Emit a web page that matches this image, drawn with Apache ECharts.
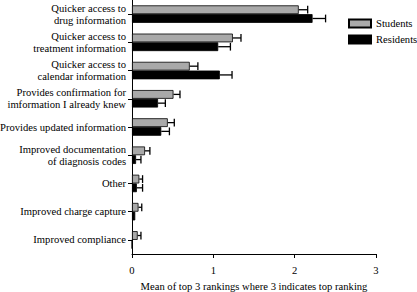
<!DOCTYPE html>
<html>
<head>
<meta charset="utf-8">
<script src="https://cdn.jsdelivr.net/npm/echarts@6/dist/echarts.min.js"></script>
<style>
  html, body { margin: 0; padding: 0; background: #fff; }
  #chart { width: 417px; height: 292px; }
</style>
</head>
<body>
<div id="chart"></div>
<script>
var categories = [
  'Quicker access to\ndrug information',
  'Quicker access to\ntreatment information',
  'Quicker access to\ncalendar information',
  'Provides confirmation for\nimformation I already knew',
  'Provides updated information',
  'Improved documentation\nof diagnosis codes',
  'Other',
  'Improved charge capture',
  'Improved compliance'
];
var students = [2.05, 1.24, 0.71, 0.51, 0.44, 0.16, 0.09, 0.08, 0.07];
var studentsErr = [0.11, 0.10, 0.10, 0.08, 0.08, 0.06, 0.04, 0.04, 0.04];
var residents = [2.22, 1.06, 1.08, 0.32, 0.36, 0.05, 0.06, 0.04, 0];
var residentsErr = [0.16, 0.15, 0.15, 0.09, 0.10, 0.06, 0.07, 0, 0];
var xTicks = [0, 1, 2, 3];

var font = '"Liberation Serif", "DejaVu Serif", serif';
var fs = 10.6;
var catGap = 0.38;

function errSeries(name, vals, errs, side) {
  var data = vals.map(function(v, i) { return [v, i, errs[i]]; });
  return {
    type: 'custom',
    name: name + ' err',
    silent: true,
    z: 5,
    data: data,
    encode: { x: 0, y: 1 },
    renderItem: function(params, api) {
      var v = api.value(0), i = api.value(1), e = api.value(2);
      if (!e) return null;
      var band = api.size([0, 1])[1];
      var bw = band * (1 - catGap) / 2;
      var p0 = api.coord([v, i]);
      var p1 = api.coord([v + e, i]);
      var y = p0[1] + side * bw / 2;
      var style = { stroke: '#000', lineWidth: 1.3 };
      return {
        type: 'group',
        children: [
          { type: 'line', shape: { x1: p0[0], y1: y, x2: p1[0], y2: y }, style: style },
          { type: 'line', shape: { x1: p1[0], y1: y - bw / 2 + 0.5, x2: p1[0], y2: y + bw / 2 - 0.5 }, style: style }
        ]
      };
    }
  };
}

var chart = echarts.init(document.getElementById('chart'), null, { renderer: 'svg' });
chart.setOption({
  animation: false,
  textStyle: { fontFamily: font },
  legend: {
    data: ['Students', 'Residents'],
    orient: 'vertical',
    left: 348, top: 18, padding: 0,
    icon: 'rect',
    itemWidth: 22, itemHeight: 8, itemGap: 5,
    textStyle: { fontFamily: font, fontSize: fs, color: '#000' }
  },
  grid: { left: 132, right: 41, top: 0, bottom: 38, outerBoundsMode: 'none' },
  xAxis: {
    type: 'value', min: 0, max: 3, interval: 1,
    name: 'Mean of top 3 rankings where 3 indicates top ranking',
    nameLocation: 'middle', nameGap: 27,
    nameTextStyle: { fontFamily: font, fontSize: fs, color: '#000' },
    axisLine: { show: true, lineStyle: { color: '#000', width: 1 } },
    axisTick: { show: true, length: 4, lineStyle: { color: '#000' } },
    axisLabel: { color: '#000', fontFamily: font, fontSize: fs, margin: 11,
      formatter: function(v) { return xTicks.indexOf(v) >= 0 ? String(v) : ''; } },
    splitLine: { show: false }
  },
  yAxis: {
    type: 'category', data: categories, inverse: true,
    axisLine: { show: true, lineStyle: { color: '#000', width: 1 } },
    axisTick: { show: true, alignWithLabel: true, inside: false, length: 4, lineStyle: { color: '#000' } },
    axisLabel: { color: '#000', fontFamily: font, fontSize: fs, margin: 6, lineHeight: 12,
      interval: 0, showMinLabel: true, verticalAlign: 'middle',
      formatter: function(v) { return v; } }
  },
  series: [
    {
      name: 'Students', type: 'bar', data: students,
      barGap: '0%', barCategoryGap: (catGap * 100) + '%',
      itemStyle: { color: '#a9a9a9', borderColor: '#000', borderWidth: 0.8 }
    },
    {
      name: 'Residents', type: 'bar', data: residents,
      barGap: '0%', barCategoryGap: (catGap * 100) + '%',
      itemStyle: { color: '#000', borderColor: '#000', borderWidth: 0.8 }
    },
    errSeries('Students', students, studentsErr, -1),
    errSeries('Residents', residents, residentsErr, 1)
  ]
});
</script>
</body>
</html>
